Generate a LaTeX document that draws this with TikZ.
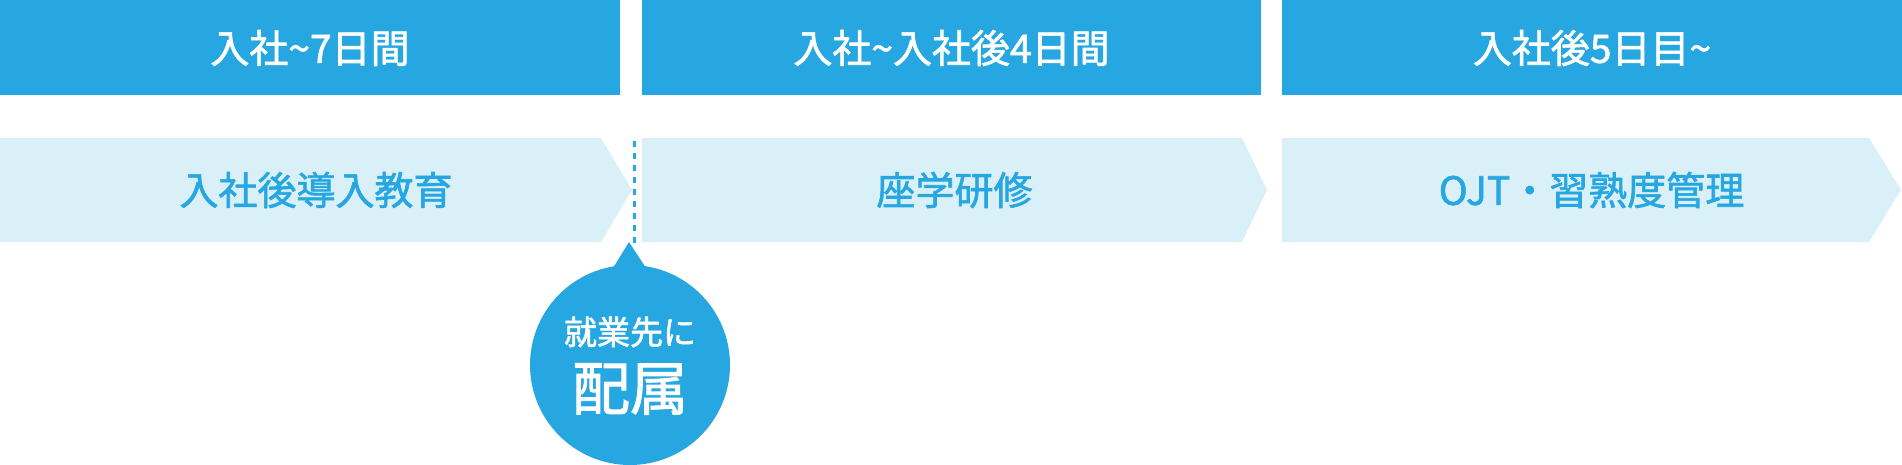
\documentclass[tikz,border=0pt]{standalone}
\usepackage{fontspec}
\newfontfamily\jp[FakeBold=1.6]{Noto Sans CJK JP}
\definecolor{hblue}{HTML}{27A7E1}
\definecolor{lblue}{HTML}{DAF0F9}
\begin{document}
\begin{tikzpicture}[x=1pt,y=-1pt,
    head/.style={text=white,font=\jp\fontsize{39}{39}\selectfont,inner sep=0pt},
    stage/.style={text=hblue,font=\jp\fontsize{39}{39}\selectfont,inner sep=0pt}]
\useasboundingbox (0,0) rectangle (1902,465);
\foreach \i/\a/\b/\c/\d/\hd/\bd in {1/0/620/601/632/{入社\textasciitilde 7日間}/{入社後導入教育},
    2/642/1261/1242/1267/{入社\textasciitilde 入社後4日間}/{座学研修},
    3/1282/1902/1869/1901/{入社後5日目\textasciitilde}/{OJT・習熟度管理}}
{
    \fill[hblue] (\a,0) rectangle (\b,95);
    \node[head] (hd\i) at ({(\a+\b)/2},48) {\hd};
    \fill[lblue] (\a,138)--(\c,138)--(\d,190)--(\c,242)--(\a,242)--cycle;
    \node[stage] (st\i) at ({(\a+\d)/2},190) {\bd};
}
\coordinate (dtop) at (634,141);
\coordinate (dbot) at (634,243);
\draw[hblue,line width=3pt,dash pattern=on 6pt off 6pt] (dtop)--(dbot);
\coordinate (tip) at (629,242);
\node[circle,fill=hblue,minimum size=200pt,inner sep=0pt] (bubble) at (630,365){};
\fill[hblue] (613,268)--(tip)--(646,268)--cycle;
\node[text=white,font=\jp\fontsize{33}{33}\selectfont,inner sep=0pt] (lbl1) at (630,332){就業先に};
\node[text=white,font=\jp\fontsize{58}{58}\selectfont,inner sep=0pt] (lbl2) at (630,389){配属};

\end{tikzpicture}
\end{document}
